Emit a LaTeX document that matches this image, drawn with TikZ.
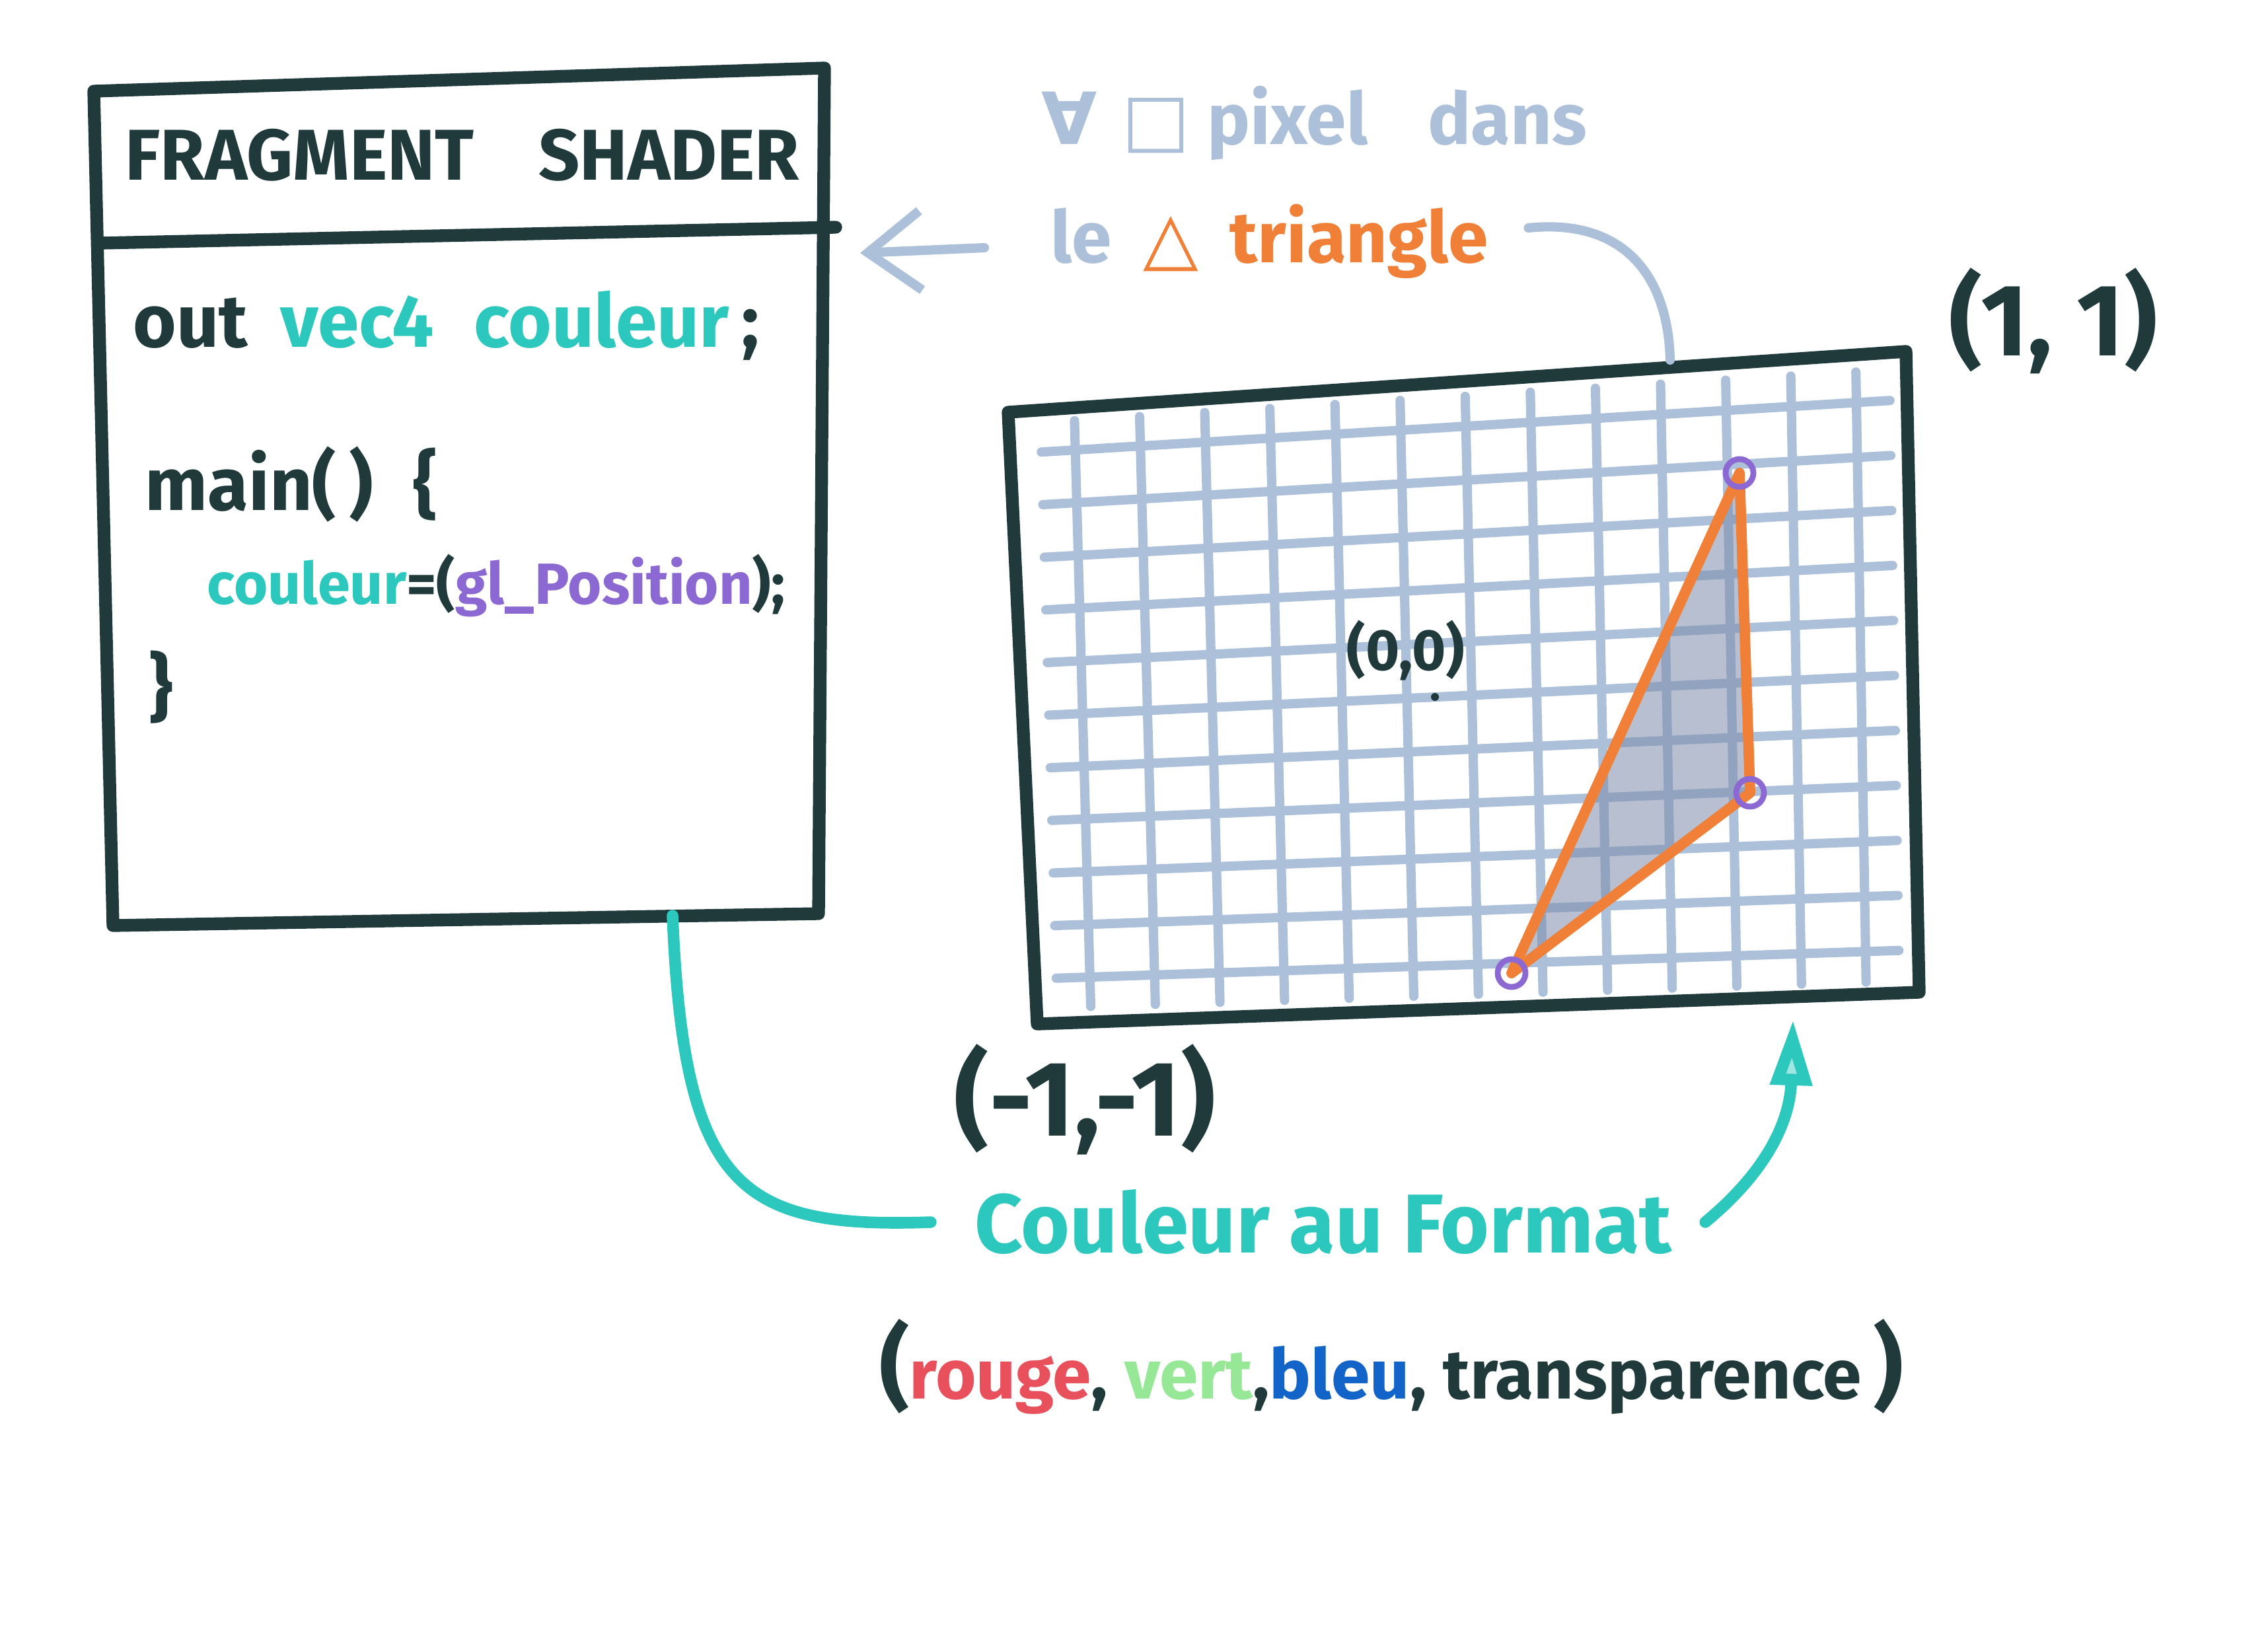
\documentclass[tikz,border=0pt]{standalone}
\usepackage{fontspec}
\setmainfont{Fira Sans}
\newfontfamily\symfont{DejaVu Sans}
\usetikzlibrary{arrows.meta,positioning,calc}
\definecolor{skdark}{RGB}{32,58,60}
\definecolor{skteal}{RGB}{44,200,190}
\definecolor{skpurple}{RGB}{140,105,210}
\definecolor{skgrid}{RGB}{172,192,218}
\definecolor{skorange}{RGB}{240,128,56}
\definecolor{skshade}{RGB}{125,140,170}
\definecolor{skred}{RGB}{232,80,92}
\definecolor{skgreen}{RGB}{150,232,150}
\definecolor{skblue}{RGB}{18,100,200}

\begin{document}
\begin{tikzpicture}[x=1cm,y=-1cm,
    marker/.style={line width=5.5pt, line cap=round, line join=round},
    gridline/.style={skgrid, line width=4pt, line cap=round},
    hand/.style={inner sep=0pt, font=\bfseries\fontsize{#1}{#1}\selectfont},
    vertex/.style={circle, draw=skpurple, line width=2.5pt, minimum size=4.2mm, inner sep=0pt}]
  \fill[white] (0,0) rectangle (34.33,24.80);
  \useasboundingbox (0,0) rectangle (34.33,24.80);

  % Fragment shader box
  \coordinate (sTL) at (1.42,1.38);
  \coordinate (sTR) at (12.48,1.03);
  \coordinate (sBR) at (12.39,13.83);
  \coordinate (sBL) at (1.71,14.01);
  \coordinate (sbot) at (10.18,13.86);
  \draw[skdark, marker] (sTL) -- (sTR) -- (sBR) -- (sBL) -- cycle;
  \draw[skdark, marker] (1.52,3.68) -- (12.65,3.44);
  \node[hand=31, skdark] (title) at (7.00,2.35) {FRAGMENT\hspace{0.9em}SHADER};
  \node[hand=32, anchor=west] (line1) at (2.01,4.93)
    {\textcolor{skdark}{out}\hspace{0.2em} \textcolor{skteal}{vec4\hspace{0.3em} couleur}\textcolor{skdark}{\,;}};
  \node[hand=32, skdark, anchor=west] (line2) at (2.19,7.33) {main(\,)\hspace{0.3em} \{};
  \node[hand=25, anchor=west] (line3) at (3.13,8.87)
    {\textcolor{skteal}{couleur}\textcolor{skdark}{=(}\textcolor{skpurple}{gl\_Position}\textcolor{skdark}{);}};
  \node[hand=32, skdark, anchor=west] (line4) at (2.25,10.40) {\}};

  % Pixel grid
  \coordinate (gTL) at (15.26,6.24);
  \coordinate (gTR) at (28.85,5.32);
  \coordinate (gBR) at (29.05,15.02);
  \coordinate (gBL) at (15.70,15.50);
  \coordinate (iTL) at (15.75,6.40);
  \coordinate (iTR) at (28.60,5.60);
  \coordinate (iBR) at (28.75,14.85);
  \coordinate (iBL) at (16.00,15.25);
  \foreach \i [evaluate=\i as \t using 0.05+0.09*\i] in {0,...,10}
    \draw[gridline] ($(iTL)!\t!(iBL)$) -- ($(iTR)!\t!(iBR)$);
  \foreach \i [evaluate=\i as \t using 0.04+0.0767*\i] in {0,...,12}
    \draw[gridline] ($(iTL)!\t!(iTR)$) -- ($(iBL)!\t!(iBR)$);

  % Triangle
  \coordinate (vA) at (26.33,7.16);
  \coordinate (vB) at (26.49,12.00);
  \coordinate (vC) at (22.88,14.73);
  \fill[skshade, opacity=0.55] (vA) -- (vB) -- (vC) -- cycle;
  \draw[skorange, line width=4.5pt, line join=round] (vA) -- (vB) -- (vC) -- cycle;
  \node[vertex] (pA) at (vA) {};
  \node[vertex] (pB) at (vB) {};
  \node[vertex] (pC) at (vC) {};
  \draw[skdark, marker] (gTL) -- (gTR) -- (gBR) -- (gBL) -- cycle;

  % Coordinates
  \node[hand=25, skdark] (origin) at (21.28,9.85) {(0,0)};
  \fill[skdark] (21.72,10.55) circle (0.06);
  \node[hand=44, skdark] (topright) at (31.08,4.86) {(1, 1)};
  \node[hand=46, skdark] (botleft) at (16.42,16.64) {(-1,-1)};

  % Every pixel of the triangle
  \node[hand=31, skgrid, anchor=west] (forall) at (15.76,1.86) {{\symfont ∀ □} pixel\hspace{0.6em} dans};
  \node[hand=31, anchor=west] (tri) at (15.90,3.65)
    {\textcolor{skgrid}{le}\hspace{0.2em} \textcolor{skorange}{{\symfont △}\hspace{0.2em} triangle}};
  \coordinate (sarr) at (13.02,3.83);
  \coordinate (gridtop) at (25.28,5.45);
  \draw[skgrid, line width=4pt, line cap=round, -{Straight Barb[length=8mm,width=12mm]}]
    ([xshift=-10mm,yshift=-1mm]tri.west) -- (sarr);
  \draw[skgrid, line width=4pt, line cap=round]
    ([xshift=6mm,yshift=2mm]tri.east) .. controls (24.6,3.3) and (25.25,4.2) .. (gridtop);

  % Colour output
  \node[hand=36, skteal] (fmt) at (20.03,18.50) {Couleur au Format};
  \node[hand=30] (rgba) at (21.06,20.69)
    {\textcolor{skdark}{\fontsize{40}{40}\selectfont(}\textcolor{skred}{rouge}\textcolor{skdark}{,}
     \textcolor{skgreen}{vert}\textcolor{skdark}{,}\textcolor{skblue}{bleu}\textcolor{skdark}{,
     transparence\,\fontsize{40}{40}\selectfont)}};
  \coordinate (gridbot) at (27.14,15.43);
  \draw[skteal, line width=5pt, line cap=round]
    (sbot) .. controls (10.35,18.0) and (11.2,18.6) .. ([xshift=-6.6mm]fmt.west);
  \draw[skteal, line width=5pt, line cap=round,
        -{Triangle[length=10mm,width=6mm,fill=skteal!45]}]
    ([xshift=5mm]fmt.east) .. controls (26.9,17.6) and (27.1,16.8) .. (gridbot);
\end{tikzpicture}
\end{document}
